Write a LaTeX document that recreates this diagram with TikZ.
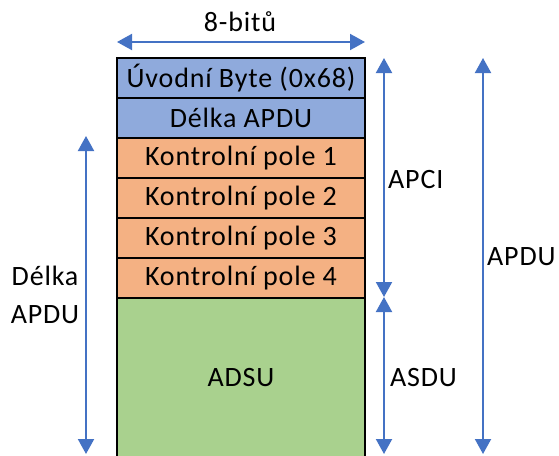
\documentclass[tikz,border=0pt]{standalone}
\usepackage{fontspec}
\setmainfont{Carlito}[LetterSpace=3]
\usetikzlibrary{arrows.meta}
\definecolor{cblue}{HTML}{8FAADC}
\definecolor{corange}{HTML}{F4B183}
\definecolor{cgreen}{HTML}{A9D18E}
\definecolor{carrow}{HTML}{4472C4}
\tikzset{
  row/.style={draw=black, line width=2pt, minimum width=248pt, minimum height=40pt, inner sep=0pt, outer sep=0pt, anchor=north west, font=\fontsize{28}{33}\selectfont},
  dim/.style={draw=carrow, line width=2pt, {Triangle[length=15pt,width=16pt]}-{Triangle[length=15pt,width=16pt]}},
  lbl/.style={font=\fontsize{28}{38}\selectfont, inner sep=0pt, align=center},
}
\begin{document}
\begin{tikzpicture}[x=1pt,y=-1pt]
\useasboundingbox (0,0) rectangle (559,455);
\node[row, fill=cgreen, minimum height=160pt] (g) at (117,298) {ADSU};
\node[row, fill=cblue] (r1) at (117,58) {Úvodní Byte (0x68)};
\node[row, fill=cblue] (r2) at (117,98) {Délka APDU};
\node[row, fill=corange] (k1) at (117,138) {Kontrolní pole 1};
\node[row, fill=corange] (k2) at (117,178) {Kontrolní pole 2};
\node[row, fill=corange] (k3) at (117,218) {Kontrolní pole 3};
\node[row, fill=corange] (k4) at (117,258) {Kontrolní pole 4};
% dimension endpoints
\coordinate (tl) at (117,42);
\coordinate (tr) at (365,42);
\coordinate (lt) at (86,136);
\coordinate (lb) at (86,454);
\coordinate (at) at (384,58);
\coordinate (am) at (384,297);
\coordinate (ab) at (384,454);
\coordinate (pt) at (483,58);
\coordinate (pb) at (483,454);
\draw[dim] (tl) -- (tr);
\draw[dim] (lt) -- (lb);
\draw[dim] (at) -- (am);
\draw[dim] (am) -- (ab);
\draw[dim] (pt) -- (pb);
\node[lbl] (bits) at (240,22) {8-bitů};
\node[lbl, anchor=west] (apci) at (388,180) {APCI};
\node[lbl, anchor=west] (asdu) at (390,378) {ASDU};
\node[lbl, anchor=west] (apdu) at (487,257) {APDU};
\node[lbl] (delka) at (45,295) {Délka\\APDU};
\end{tikzpicture}
\end{document}
